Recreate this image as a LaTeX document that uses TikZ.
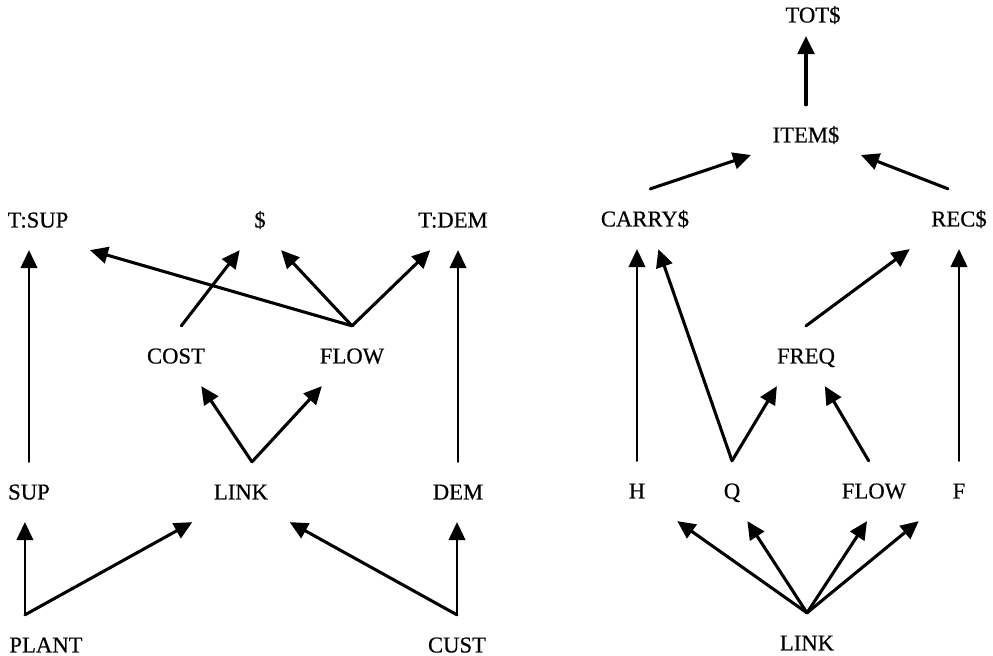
\documentclass[tikz,border=0pt]{standalone}
\usepackage{fontspec}
\setmainfont{Liberation Serif}[FakeBold=0.5]
\usetikzlibrary{arrows.meta}

\begin{document}
\begin{tikzpicture}[x=0.75pt,y=-0.75pt,
  var/.style={inner xsep=16pt,inner ysep=16.8pt,text height=11.2pt,text depth=0pt,
    font=\fontsize{17}{20}\selectfont},
  narrow/.style={minimum width=60pt},
  arr/.style={-{Triangle[length=13.5pt,width=12.5pt]},line width=2.3pt,line cap=round},
  varr/.style={arr,line width=1.6pt}]
\useasboundingbox (0,0) rectangle (993,656);

% left net
\node[var] (tsup) at (38,220) {T:SUP};
\node[var] (dollar) at (260,220) {\$};
\node[var] (tdem) at (453,220) {T:DEM};
\node[var] (cost) at (176,356) {COST};
\node[var] (flowa) at (352,356) {FLOW};
\node[var] (sup) at (29,492) {SUP};
\node[var] (linka) at (241,492) {LINK};
\node[var] (dem) at (458,492) {DEM};
\node[var] (plant) at (46,645) {PLANT};
\node[var] (cust) at (457,645) {CUST};

\draw[varr] (sup) -- (sup |- tsup.south);
\draw[varr] (plant.125) -- (plant.125 |- sup.south);
\draw[arr] (plant.125) -- (linka.south west);
\draw[varr] (cust.north) -- (cust.north |- dem.south);
\draw[arr] (cust.north) -- (linka.south east);
\draw[varr] (dem) -- (dem |- tdem.south);
\draw[arr] (linka.70) -- (cost.-50);
\draw[arr] (linka.70) -- (flowa.225);
\draw[arr] (cost.80) -- (dollar.236);
\draw[arr] (flowa.north) -- (dollar.-55);
\draw[arr] (flowa.north) -- (tdem.233);
\draw[arr] (flowa.north) -- (tsup.south east);

% right net
\node[var,inner ysep=10pt] (tot) at (813,15) {TOT\$};
\node[var] (item) at (806,135) {ITEM\$};
\node[var] (carry) at (645,219) {CARRY\$};
\node[var] (rec) at (959,219) {REC\$};
\node[var] (freq) at (806,356) {FREQ};
\node[var,narrow] (h) at (637,491) {H};
\node[var,narrow] (q) at (732,491) {Q};
\node[var] (flowb) at (874,491) {FLOW};
\node[var,narrow] (f) at (959,491) {F};
\node[var] (linkb) at (807,643) {LINK};

\draw[arr] (item) -- (item |- tot.south);
\draw[arr] (carry.80) -- (item.200);
\draw[arr] (rec.110) -- (item.-20);
\draw[varr] (h) -- (h |- carry.south);
\draw[arr] (q.north) -- (carry.-66);
\draw[arr] (q.north) -- (freq.226);
\draw[arr] (flowb.100) -- (freq.-58);
\draw[arr] (freq.north) -- (rec.south west);
\draw[varr] (f) -- (f |- rec.south);
\foreach \t in {h.south east,q.-63,flowb.257,f.south west}
  \draw[arr] (linkb.north) -- (\t);
\end{tikzpicture}
\end{document}
